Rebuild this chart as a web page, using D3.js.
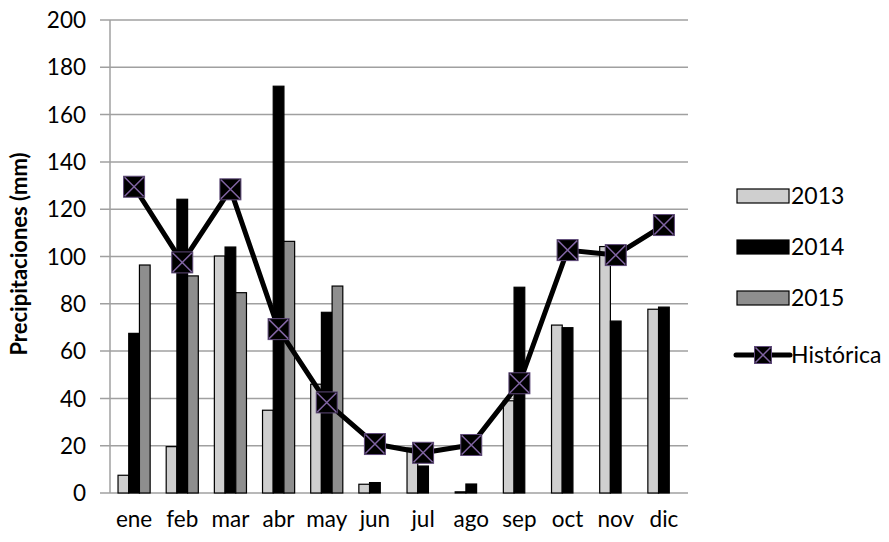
<!DOCTYPE html>
<html><head><meta charset="utf-8">
<script src="https://cdn.jsdelivr.net/npm/d3@7"></script>
<style>body{margin:0;background:#fff}svg{display:block}text{font-family:Lato,'Open Sans',sans-serif;fill:#000}</style>
</head><body><svg id="c" width="889" height="542"></svg>
<script>
const months = ["ene","feb","mar","abr","may","jun","jul","ago","sep","oct","nov","dic"];
const v2013 = [7.5,19.6,100.2,35,46,3.7,19,0.5,39,71,104.2,77.7];
const v2014 = [67.5,124.2,104,172,76.4,4.4,11.4,3.8,87,69.9,72.7,78.6];
const v2015 = [96.4,91.8,84.7,106.4,87.5,null,null,null,null,null,null,null];
const historica = [129.5,97.5,128.4,69.3,38.3,20.7,17,20.3,46.4,102.7,100.6,113.3];
const yTicks = [0,20,40,60,80,100,120,140,160,180,200];
const seriesNames = ["2013","2014","2015"];
const seriesColors = ["#cfcfcf","#000000","#8e8e8e"];

const svg = d3.select("#c");
const L=110,R=688,T=20,B=493;
const FS="22.5px";
const x = d3.scaleBand().domain(months).range([L,R]).paddingInner(0.3333).paddingOuter(0.1667);
const y = d3.scaleLinear().domain([0,200]).range([B,T]);
const xs = d3.scaleBand().domain(seriesNames).range([0,x.bandwidth()]);

// gridlines
svg.append("g").selectAll("line").data(yTicks).join("line")
  .attr("x1",L-10).attr("x2",R).attr("y1",d=>y(d)).attr("y2",d=>y(d))
  .attr("stroke","#a0a0a0").attr("stroke-width",1.5);
svg.append("line").attr("x1",L).attr("x2",L).attr("y1",T).attr("y2",B).attr("stroke","#a0a0a0").attr("stroke-width",1.5);

// y tick labels
svg.append("g").selectAll("text").data(yTicks).join("text")
  .attr("x",86).attr("y",d=>y(d)).attr("dy","0.36em").attr("text-anchor","end")
  .style("font-size",FS).text(d=>d);

// bars
const all=[v2013,v2014,v2015];
all.forEach((vals,si)=>{
  svg.append("g").selectAll("rect").data(months.map((m,i)=>({m,v:vals[i]})).filter(d=>d.v!=null)).join("rect")
    .attr("x",d=>x(d.m)+xs(seriesNames[si])).attr("width",xs.bandwidth())
    .attr("y",d=>y(d.v)).attr("height",d=>B-y(d.v))
    .attr("fill",seriesColors[si]).attr("stroke","#000").attr("stroke-width",1.2);
});

// x labels
svg.append("g").selectAll("text").data(months).join("text")
  .attr("x",d=>x(d)+x.bandwidth()/2).attr("y",527).attr("text-anchor","middle")
  .style("font-size",FS).text(d=>d);

// line
const cx = d=>x(d)+x.bandwidth()/2;
const line = d3.line().x((d,i)=>cx(months[i])).y(d=>y(d));
svg.append("path").datum(historica).attr("d",line).attr("fill","none").attr("stroke","#000").attr("stroke-width",5).attr("stroke-linejoin","round");

function marker(g,px,py,s){
  g.append("rect").attr("x",px-s/2).attr("y",py-s/2).attr("width",s).attr("height",s).attr("fill","#000").attr("stroke","#5f4a7a").attr("stroke-width",1);
  const h=s/2-1;
  g.append("path").attr("d",`M${px-h},${py-h}L${px+h},${py+h}M${px+h},${py-h}L${px-h},${py+h}`).attr("stroke","#8064a2").attr("stroke-width",1.5);
}
const mg=svg.append("g");
historica.forEach((v,i)=>marker(mg,cx(months[i]),y(v),21));

// y title
svg.append("text").attr("transform","translate(27,254) rotate(-90)").attr("text-anchor","middle")
  .style("font-size","22px").style("font-weight","bold").text("Precipitaciones (mm)");

// legend
const lg=svg.append("g");
const ly=[196,247,298];
seriesNames.forEach((n,i)=>{
  lg.append("rect").attr("x",737).attr("y",ly[i]-7).attr("width",52).attr("height",14).attr("fill",seriesColors[i]).attr("stroke","#000").attr("stroke-width",1.2);
  lg.append("text").attr("x",791).attr("y",ly[i]).attr("dy","0.36em").style("font-size","23px").text(n);
});
lg.append("line").attr("x1",736).attr("x2",790).attr("y1",355).attr("y2",355).attr("stroke","#000").attr("stroke-width",5).attr("stroke-linecap","round");
marker(lg,763,355,17);
lg.append("text").attr("x",791).attr("y",355).attr("dy","0.36em").style("font-size","23px").text("Histórica");
</script></body></html>
